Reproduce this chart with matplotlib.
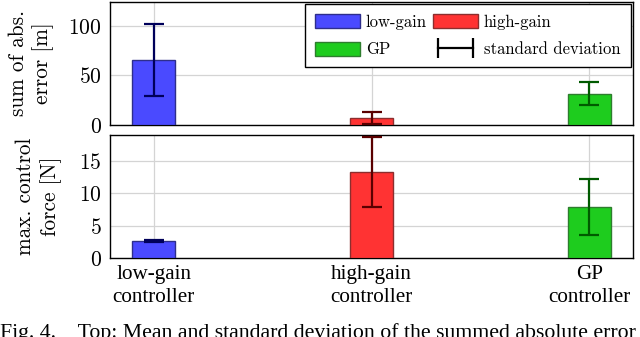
import matplotlib
matplotlib.use("Agg")
import matplotlib.pyplot as plt
from matplotlib.lines import Line2D
from matplotlib.patches import Patch

plt.rcParams['font.family'] = ['cmr10', 'DejaVu Serif']
plt.rcParams['axes.formatter.use_mathtext'] = True
plt.rcParams['legend.numpoints'] = 2

categories = ["low-gain\ncontroller", "high-gain\ncontroller", "GP\ncontroller"]
series_names = ["low-gain", "high-gain", "GP"]
error_mean = [65.6, 6.7, 31.5]
error_std = [36.4, 6.1, 11.5]
force_mean = [2.6, 13.3, 7.85]
force_std = [0.2, 5.35, 4.3]
error_ticks = [0, 50, 100]
force_ticks = [0, 5, 10, 15]

fills = ["#4a4aff", "#ff3333", "#1ecc1e"]
edges = ["#2e2e8c", "#8c2e2e", "#2e7d2e"]
errcols = ["#00005a", "#5a0000", "#005a00"]

W, H = 640, 337
fig = plt.figure(figsize=(W/100, H/100), dpi=100)
ax1 = fig.add_axes([110/W, (H-125)/H, 523/W, 123/H])
ax2 = fig.add_axes([110/W, (H-258)/H, 523/W, 123/H])

fs = 15.5
lfs = 15.3
for ax, means, stds, ticks, ylim, lab, lx in [
        (ax1, error_mean, error_std, error_ticks, (0, 124), "sum of abs.\nerror [m]", -0.151),
        (ax2, force_mean, force_std, force_ticks, (0, 19), "max. control\nforce [N]", -0.136)]:
    x = list(range(len(means)))
    for i in x:
        ax.bar(i, means[i], width=0.2, color=fills[i], edgecolor=edges[i], linewidth=1.0, zorder=3)
        ax.errorbar(i, means[i], yerr=stds[i], color=errcols[i], elinewidth=1.6,
                    capsize=7.5, capthick=1.6, zorder=4)
    ax.set_xlim(-0.2, 2.2)
    ax.set_ylim(*ylim)
    ax.set_yticks(ticks)
    ax.set_xticks(x)
    ax.grid(True, color="#d4d4d4", linewidth=0.9, zorder=0)
    ax.set_axisbelow(True)
    ax.tick_params(direction="in", length=0, labelsize=fs, pad=6)
    for s in ax.spines.values():
        s.set_linewidth(1.0)
        s.set_color("black")
    ax.set_ylabel(lab, fontsize=lfs, linespacing=1.3, va="center", ha="center")
    ax.yaxis.set_label_coords(lx, 0.5)

ax1.set_xticklabels([])
ax2.set_xticklabels(categories, fontsize=15.2, linespacing=1.3,
                    family=["Liberation Serif"])
ax2.tick_params(axis="x", pad=5)

handles = [Patch(facecolor=fills[0], edgecolor=edges[0]),
           Patch(facecolor=fills[2], edgecolor=edges[2]),
           Patch(facecolor=fills[1], edgecolor=edges[1]),
           Line2D([], [], color="black", lw=1.6, marker="|", markersize=14, mew=1.6)]
labels = [series_names[0], series_names[2], series_names[1], "standard deviation"]
leg = ax1.legend(handles, labels, ncol=2, loc="upper right", fontsize=12,
                 frameon=True, fancybox=False, edgecolor="black", framealpha=1,
                 borderaxespad=0.15, handlelength=2.7, handleheight=0.9,
                 columnspacing=0.35, handletextpad=0.36, labelspacing=0.69,
                 borderpad=0.6)
leg.get_frame().set_linewidth(1.0)
leg.set_zorder(10)

fig.text(0.0, -1/H, "Fig. 4.    Top: Mean and standard deviation of the summed absolute error",
         fontsize=15.7, va="baseline", ha="left", family=["Liberation Serif"])

fig.savefig("out.png", dpi=100)
